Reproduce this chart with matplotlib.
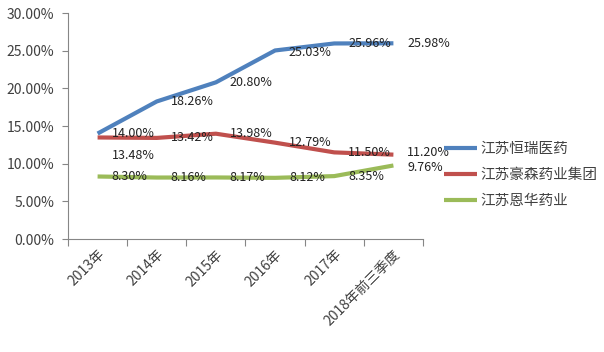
import matplotlib.pyplot as plt
from matplotlib.ticker import FuncFormatter, FixedLocator

plt.rcParams['font.family'] = ['Noto Sans CJK SC', 'DejaVu Sans']

# data
years = ['2013年', '2014年', '2015年', '2016年', '2017年', '2018年前三季度']
hengrui = [14.00, 18.26, 20.80, 25.03, 25.96, 25.98]
haosen = [13.48, 13.42, 13.98, 12.79, 11.50, 11.20]
enhua = [8.30, 8.16, 8.17, 8.12, 8.35, 9.76]
names = ['江苏恒瑞医药', '江苏豪森药业集团', '江苏恩华药业']
colors = ['#4F81BD', '#C0504D', '#9BBB59']

text_c = '#404040'
x = list(range(len(years)))

fig = plt.figure(figsize=(6.04, 3.52), dpi=100)
ax = fig.add_axes([0.1126, 0.321, 0.5877, 0.642])

for vals, name, c in zip([hengrui, haosen, enhua], names, colors):
    ax.plot(x, vals, color=c, lw=3, label=name, solid_capstyle='butt')
    for i, v in enumerate(vals):
        dx, dy = 10, 0
        if vals is haosen and i == 0:
            dy = -13
        if vals is hengrui and i == 3:
            dy = -1.5
        if vals is haosen and i == 5:
            dy = 1.5
        if vals is enhua and i == 5:
            dy = -1.5
        ax.annotate('%.2f%%' % v, (i, v), xytext=(dx, dy), textcoords='offset points',
                    ha='left', va='center', fontsize=9, color='#222222')

ax.set_xlim(-0.5, 5.5)
ax.set_ylim(0, 30)
ax.yaxis.set_major_locator(FixedLocator([0, 5, 10, 15, 20, 25, 30]))
ax.yaxis.set_major_formatter(FuncFormatter(lambda v, p: '%.2f%%' % v))

ax.set_xticks([i - 0.5 for i in range(7)])
ax.set_xticklabels([])
ax.set_xticks(x, minor=True)
ax.set_xticklabels(years, minor=True, rotation=45, ha='right', va='top',
                   rotation_mode='anchor', fontsize=10, color=text_c)
ax.tick_params(axis='x', which='minor', length=0, pad=6)
ax.tick_params(axis='x', which='major', length=5, color='#868686')
ax.tick_params(axis='y', length=4, color='#868686', labelsize=10, labelcolor=text_c, pad=6)

for s in ['top', 'right']:
    ax.spines[s].set_visible(False)
for s in ['left', 'bottom']:
    ax.spines[s].set_color('#868686')

leg = fig.legend(loc='center left', bbox_to_anchor=(0.713, 0.503), frameon=False,
                 handlelength=2.3, handletextpad=0.2, labelspacing=0.8, fontsize=10.5)
for t in leg.get_texts():
    t.set_color(text_c)

fig.savefig('out.png', dpi=100)
